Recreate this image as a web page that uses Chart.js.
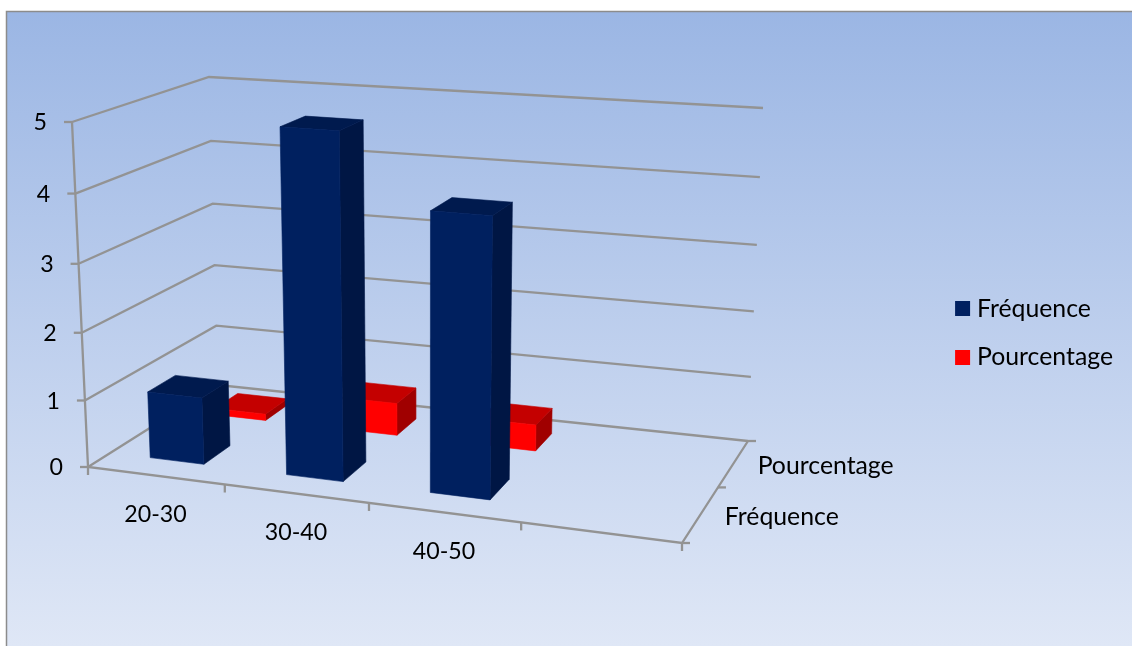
<!DOCTYPE html>
<html lang="fr">
<head>
<meta charset="utf-8">
<title>Fréquence et pourcentage par tranche d'âge</title>
<script src="https://cdn.jsdelivr.net/npm/chart.js@4/dist/chart.umd.min.js"></script>
<style>
    html, body { margin: 0; padding: 0; background: #fff; }
    #wrap { width: 1132px; height: 646px; }
</style>
</head>
<body>
<div id="wrap"><canvas id="chart"></canvas></div>
<script>
const categories = ['20-30', '30-40', '40-50', ''];
const frequence = [1, 5, 4, null];
const pourcentage = [0.1, 0.5, 0.4, null];
const valueTicksMax = 5;

// Part d'une case occupée par une barre (largeur comme profondeur)
const BAR_FRACTION = 0.4;

// Coins de la boîte 3D : [avant/arrière][bas/haut][gauche/droite]
const BOX = {
    front: { low: [[88, 467], [682, 543]], high: [[72, 122], [694, 166]] },
    back: { low: [[218, 385], [748, 441]], high: [[209, 77], [763, 108]] }
};
const FORESHORTEN_X = 1.114;
const FORESHORTEN_Y = 1.047;
const FORESHORTEN_Z = 0.835;

const AXIS_COLOR = '#939393';
const FONT = { family: 'Lato, sans-serif', size: 24.8 };
const DIGIT_SIZE = 23.2; // les chiffres de Lato sont plus larges que ses lettres

const FACES = {
    blue: { front: '#00205f', top: '#001a4e', side: '#001644' },
    red: { front: '#ff0000', top: '#c40000', side: '#a00000' }
};

function lerp(a, b, t) {
    return [a[0] + (b[0] - a[0]) * t, a[1] + (b[1] - a[1]) * t];
}

function warp(t, r) {
    return t / (t + r * (1 - t));
}

// u : catégorie 0-1, v : valeur 0-1, w : profondeur 0-1
function project(u, v, w) {
    const fu = warp(u, FORESHORTEN_X);
    const fv = warp(v, FORESHORTEN_Y);
    const fw = warp(w, FORESHORTEN_Z);
    const plane = (p) => lerp(lerp(p.low[0], p.low[1], fu), lerp(p.high[0], p.high[1], fu), fv);
    return lerp(plane(BOX.front), plane(BOX.back), fw);
}

function polyline(ctx, pts) {
    ctx.beginPath();
    pts.forEach((p, i) => (i ? ctx.lineTo(p[0], p[1]) : ctx.moveTo(p[0], p[1])));
    ctx.stroke();
}

function face(ctx, pts, color) {
    ctx.beginPath();
    pts.forEach((p, i) => (i ? ctx.lineTo(p[0], p[1]) : ctx.moveTo(p[0], p[1])));
    ctx.closePath();
    ctx.fillStyle = color;
    ctx.strokeStyle = color;
    ctx.lineWidth = 0.6;
    ctx.fill();
    ctx.stroke();
}

function drawLabel(ctx, text, x, y, align, size) {
    ctx.font = `${size}px ${FONT.family}`;
    ctx.fillStyle = '#000';
    ctx.textAlign = align;
    ctx.textBaseline = 'middle';
    ctx.fillText(text, x, y);
}

const backdrop = {
    id: 'backdrop',
    beforeDraw(chart) {
        const ctx = chart.ctx;
        const grad = ctx.createLinearGradient(0, 12, 0, 646);
        grad.addColorStop(0, '#9bb6e4');
        grad.addColorStop(1, '#dfe7f6');
        ctx.save();
        ctx.fillStyle = grad;
        ctx.fillRect(7, 12, chart.width - 7, chart.height - 12);
        ctx.strokeStyle = '#8c8c8c';
        ctx.lineWidth = 1.5;
        polyline(ctx, [[6.5, chart.height], [6.5, 11.5], [chart.width, 11.5]]);
        ctx.restore();
    }
};

const box3d = {
    id: 'box3d',
    beforeDatasetsDraw(chart) {
        const ctx = chart.ctx;
        const area = chart.chartArea;
        const yScale = chart.scales.y;
        const nCat = chart.data.labels.length;
        const nRows = chart.data.datasets.length;
        ctx.save();
        ctx.lineCap = 'butt';
        ctx.lineJoin = 'miter';

        // Murs : une ligne par graduation, plus les trois arêtes d'axe
        ctx.strokeStyle = AXIS_COLOR;
        ctx.lineWidth = 2.3;
        yScale.ticks.forEach((tick) => {
            const v = tick.value / yScale.max;
            const left = project(0, v, 0);
            polyline(ctx, [left, project(0, v, 1), project(1, v, 1)]);
            polyline(ctx, [[left[0] - 8, left[1]], left]);
            drawLabel(ctx, String(tick.value), left[0] - 25, left[1] + 1, 'right', DIGIT_SIZE);
        });
        polyline(ctx, [project(0, 1, 0), project(0, 0, 0), project(1, 0, 0), project(1, 0, 1)]);

        for (let i = 0; i <= nCat; i++) {
            const p = project(i / nCat, 0, 0);
            polyline(ctx, [p, [p[0], p[1] + 8]]);
        }
        for (let i = 0; i <= nRows; i++) {
            const p = project(1, 0, i / nRows);
            polyline(ctx, [p, [p[0] + 8, p[1]]]);
        }

        chart.data.labels.forEach((label, i) => {
            if (!label) return;
            const p = project((i + 0.5) / nCat, 0, 0);
            drawLabel(ctx, label, p[0], p[1] + 39, 'center', DIGIT_SIZE);
        });
        chart.data.datasets.forEach((ds, i) => {
            const p = project(1, 0, (i + 0.5) / nRows);
            drawLabel(ctx, ds.label, p[0] + 24, p[1] + 3, 'left', FONT.size);
        });

        // Barres : de la rangée du fond vers l'avant
        for (let row = nRows - 1; row >= 0; row--) {
            const ds = chart.data.datasets[row];
            const w0 = (row + 0.5 - BAR_FRACTION / 2) / nRows;
            const w1 = (row + 0.5 + BAR_FRACTION / 2) / nRows;
            chart.getDatasetMeta(row).data.forEach((bar, i) => {
                if (ds.data[i] === null) return;
                const u0 = (bar.x - bar.width / 2 - area.left) / area.width;
                const u1 = (bar.x + bar.width / 2 - area.left) / area.width;
                const v = yScale.getValueForPixel(bar.y) / yScale.max;
                face(ctx, [project(u1, 0, w0), project(u1, 0, w1), project(u1, v, w1), project(u1, v, w0)], ds.faces.side);
                face(ctx, [project(u0, v, w0), project(u1, v, w0), project(u1, v, w1), project(u0, v, w1)], ds.faces.top);
                face(ctx, [project(u0, 0, w0), project(u1, 0, w0), project(u1, v, w0), project(u0, v, w0)], ds.faces.front);
            });
        }
        ctx.restore();
        return false;
    }
};

new Chart(document.getElementById('chart'), {
    type: 'bar',
    data: {
        labels: categories,
        datasets: [
            { label: 'Fréquence', data: frequence, backgroundColor: '#002060', borderWidth: 0, faces: FACES.blue },
            { label: 'Pourcentage', data: pourcentage, backgroundColor: '#ff0000', borderWidth: 0, faces: FACES.red }
        ]
    },
    options: {
        responsive: true,
        maintainAspectRatio: false,
        animation: false,
        layout: { padding: { top: 20, right: 9 } },
        datasets: { bar: { grouped: false, categoryPercentage: 1, barPercentage: BAR_FRACTION } },
        scales: {
            x: { display: false },
            y: { display: false, min: 0, max: valueTicksMax, ticks: { stepSize: 1 } }
        },
        plugins: {
            title: { display: false },
            tooltip: { enabled: false },
            legend: {
                position: 'right',
                labels: {
                    // Petit pas de boîte : le texte reste collé au carré de 15 px
                    usePointStyle: true,
                    pointStyle: 'rect',
                    boxWidth: 4,
                    boxHeight: 15,
                    padding: 24,
                    color: '#000',
                    font: FONT
                }
            }
        }
    },
    plugins: [backdrop, box3d]
});
</script>
</body>
</html>
